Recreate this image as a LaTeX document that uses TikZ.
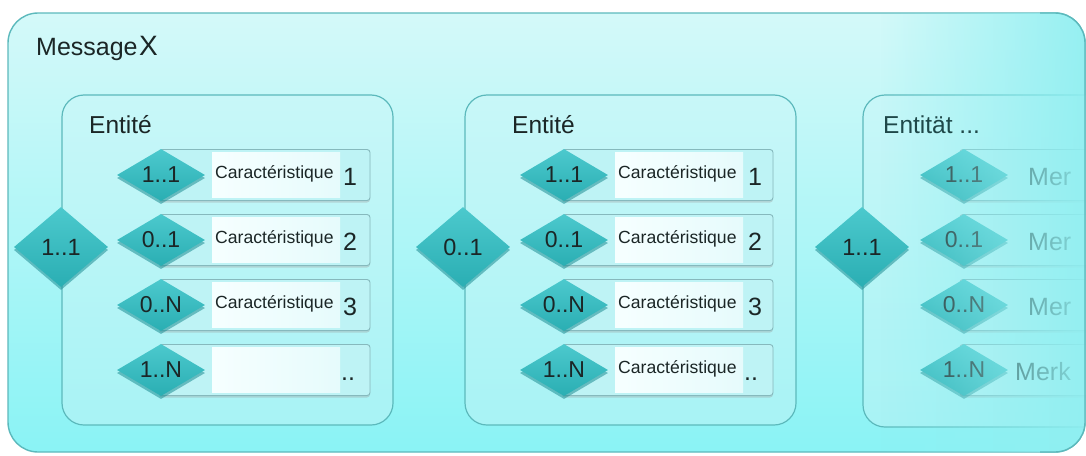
\documentclass[tikz,border=0pt]{standalone}
\usepackage{fontspec}
\setmainfont{Liberation Sans}
\usetikzlibrary{shapes.geometric,fadings,shadows}

\definecolor{teallt}{HTML}{4CC9CD}
\definecolor{tealdk}{HTML}{2AAEB3}
\definecolor{tealsh}{HTML}{1E8E94}
\definecolor{bordc}{HTML}{5CB9BC}
\definecolor{bgtop}{HTML}{D4F9F9}
\definecolor{bgbot}{HTML}{8AF3F5}
\definecolor{enttop}{HTML}{C8F7F8}
\definecolor{entbot}{HTML}{A8F3F5}
\definecolor{rowbord}{HTML}{86B9BD}
\definecolor{rowfill}{HTML}{BEF3F5}
\definecolor{rowwhl}{HTML}{F6FFFF}
\definecolor{rowwhr}{HTML}{E6FBFC}
\definecolor{txt}{HTML}{1B2626}
\definecolor{fadec}{HTML}{90EFF1}

\tikzfading[name=fadeR, left color=transparent!100, right color=transparent!8]

\newcommand\cardrow[7]{% #1 name, #2 L, #3 y, #4 card label, #5 text, #6 number, #7 number x offset
  \node[rowbox] (#1r) at ({#2+202.5},{#3}) {};
  \fill[rowwhite] ({#2+150},{#3-23}) rectangle ({#2+278},{#3+22});
  \node[smalldia] (#1d) at ({#2+99},{#3}) {#4};
  \node[cartxt, anchor=base west] (#1t) at ({#2+153},{#3+3}) {#5};
  \node[numtxt, anchor=base west] (#1n) at ({#2+#7},{#3+10}) {#6};
}

\begin{document}
\begin{tikzpicture}[x=1pt,y=-1pt,
  outerbox/.style={draw=bordc, line width=1.4pt, rounded corners=30pt, top color=bgtop, bottom color=bgbot},
  entbox/.style={draw=bordc, line width=1.2pt, rounded corners=22pt, top color=enttop, bottom color=entbot},
  rowbox/.style={draw=rowbord, line width=0.9pt, rounded corners=3pt, fill=rowfill, minimum width=211pt, minimum height=51pt, inner sep=0pt,
    drop shadow={shadow xshift=0pt, shadow yshift=-2pt, fill=black!40, opacity=.35}},
  rowwhite/.style={left color=rowwhl, right color=rowwhr},
  smalldia/.style={diamond, aspect=2.2, inner sep=0pt, minimum width=88pt, minimum height=52pt, top color=teallt, bottom color=tealdk,
    text=txt, font=\fontsize{23}{26}\selectfont,
    drop shadow={shadow xshift=0pt, shadow yshift=-3pt, fill=tealsh, opacity=.55}},
  bigdia/.style={diamond, aspect=1.2, inner sep=0pt, minimum width=94pt, minimum height=80pt, top color=teallt, bottom color=tealdk,
    text=txt, font=\fontsize{23.5}{26}\selectfont,
    drop shadow={shadow xshift=0pt, shadow yshift=-3pt, fill=tealsh, opacity=.55}},
  cartxt/.style={inner sep=0pt, text=txt, font=\fontsize{17.6}{20}\selectfont},
  numtxt/.style={inner sep=0pt, text=txt, font=\fontsize{25}{28}\selectfont},
  titletxt/.style={inner sep=0pt, text=txt, font=\fontsize{24.5}{27}\selectfont}
]
\useasboundingbox (0,0) rectangle (1086,455);

% outer message box
\draw[outerbox] (8,13) rectangle (1085,452);
\node[titletxt, anchor=base west, font=\fontsize{25}{28}\selectfont] (msg) at (36,55) {Message\kern1.5pt{\fontsize{28}{30}\selectfont X}};

% entity 1
\draw[entbox] (62,95) rectangle (393,425);
\node[titletxt, anchor=base west] (e1t) at (89,133) {Entité};
\cardrow{a1}{62}{175}{1..1}{Caractéristique}{1}{281}
\cardrow{a2}{62}{240}{0..1}{Caractéristique}{2}{281}
\cardrow{a3}{62}{305}{0..N}{Caractéristique}{3}{281}
\cardrow{a4}{62}{370}{1..N}{}{..}{279}
\node[bigdia] (d1) at (61,247) {1..1};

% entity 2
\draw[entbox] (465,95) rectangle (796,425);
\node[titletxt, anchor=base west] (e2t) at (512,133) {Entité};
\cardrow{b1}{465}{175}{1..1}{Caractéristique}{1}{283}
\cardrow{b2}{465}{240}{0..1}{Caractéristique}{2}{283}
\cardrow{b3}{465}{305}{0..N}{Caractéristique}{3}{283}
\cardrow{b4}{465}{370}{1..N}{Caractéristique}{..}{279}
\node[bigdia] (d2) at (463,247) {0..1};

% entity 3 (fading out)
\begin{scope}
\clip[rounded corners=30pt] (8,13) rectangle (1085,452);
\draw[entbox] (863,95) rectangle (1194,427);
\foreach \yy/\lab/\nm in {175/1..1/c1, 240/0..1/c2, 305/0..N/c3, 370/1..N/c4}{
  \node[rowbox, fill=rowfill] (\nm r) at ({863+202.5},{\yy}) {};
  \node[smalldia] (\nm d) at ({863+101},{\yy}) {\lab};
}
\node[numtxt, anchor=base west] (c1t) at (1028,185) {Mer};
\node[numtxt, anchor=base west] (c2t) at (1028,250) {Mer};
\node[numtxt, anchor=base west] (c3t) at (1028,315) {Mer};
\node[numtxt, anchor=base west] (c4t) at (1015,380) {Merk};
\fill[fadec, path fading=fadeR] (880,13) rectangle (1086,452);
\end{scope}
\node[titletxt, anchor=base west, text=txt!75!tealdk] (e3t) at (883,133) {Entität ...};
\node[bigdia] (d3) at (862,247) {1..1};
\draw[bordc, line width=1.4pt, rounded corners=30pt] (1040,13) -- (1085,13) -- (1085,452) -- (1040,452);
\end{tikzpicture}
\end{document}
